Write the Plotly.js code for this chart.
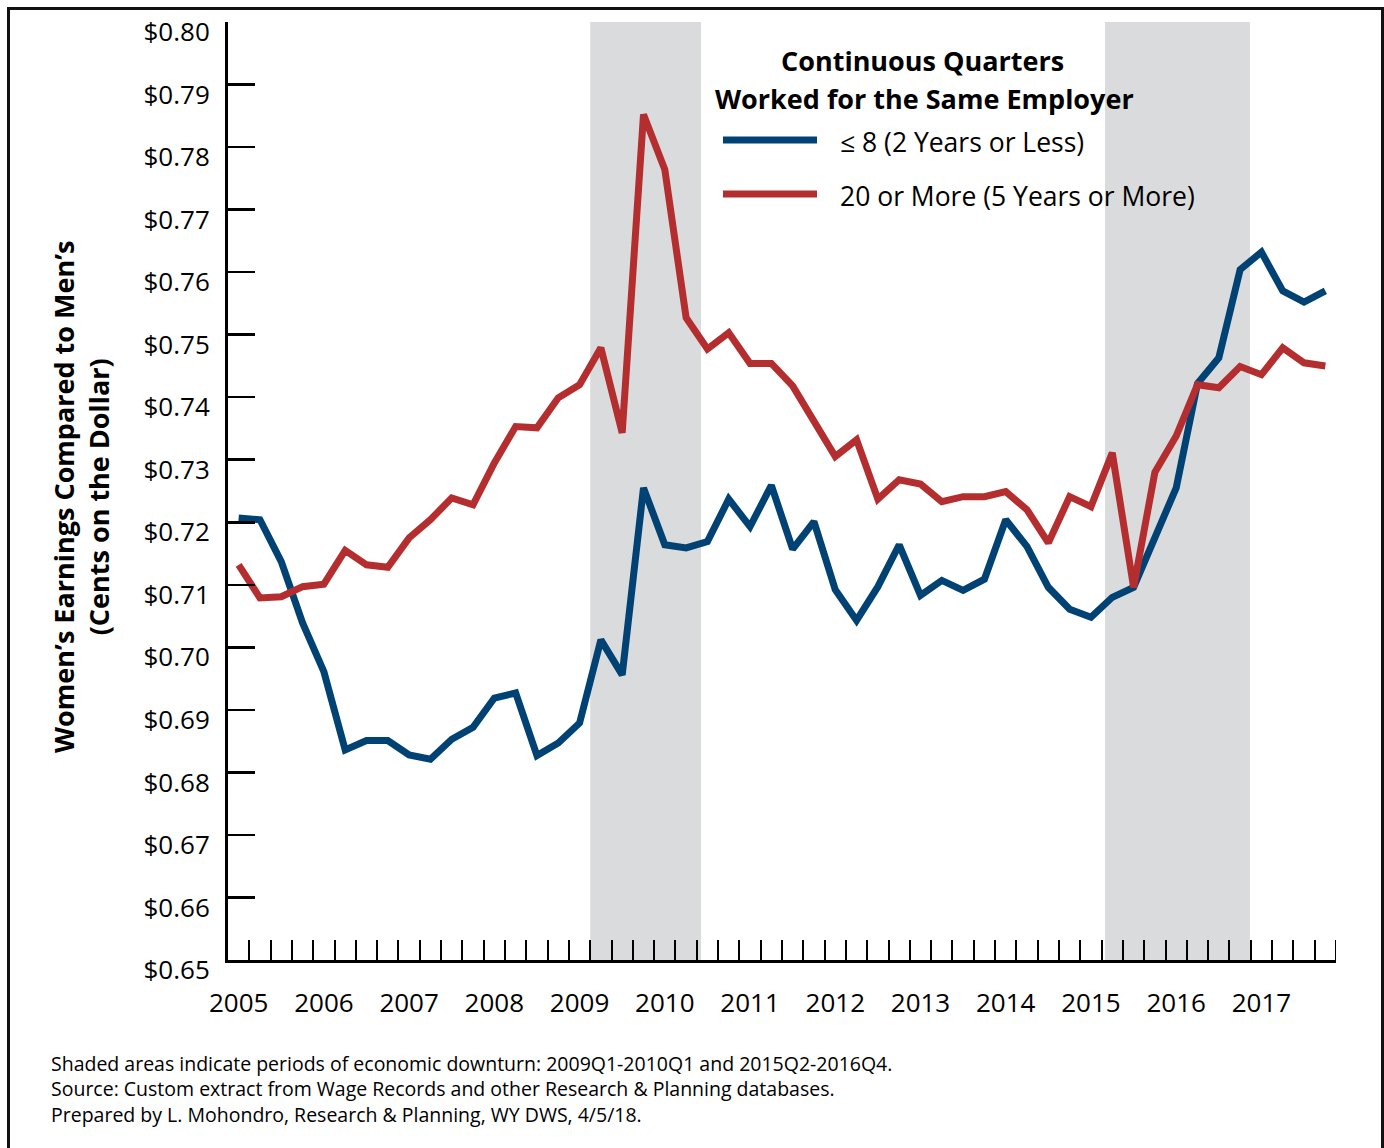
<!DOCTYPE html>
<html>
<head>
<meta charset="utf-8">
<script src="https://cdn.plot.ly/plotly-3.0.1.min.js"></script>
<style>
  html, body { margin: 0; padding: 0; background: #fff; overflow: hidden; }
  #wrap { position: relative; width: 1384px; height: 1148px; }
  #chart { position: absolute; left: 0; top: 0; width: 1384px; height: 1148px; }
  #frame { position: absolute; left: 7px; top: 7px; width: 1371px; height: 1200px;
           border-left: 3px solid #111; border-top: 3px solid #111; border-right: 3px solid #111;
           pointer-events: none; }
</style>
</head>
<body>
<div id="wrap"><div id="chart"></div><div id="frame"></div></div>
<script>
// Quarters 2005Q1 .. 2017Q4
const quarters = [
  '2005Q1','2005Q2','2005Q3','2005Q4','2006Q1','2006Q2','2006Q3','2006Q4',
  '2007Q1','2007Q2','2007Q3','2007Q4','2008Q1','2008Q2','2008Q3','2008Q4',
  '2009Q1','2009Q2','2009Q3','2009Q4','2010Q1','2010Q2','2010Q3','2010Q4',
  '2011Q1','2011Q2','2011Q3','2011Q4','2012Q1','2012Q2','2012Q3','2012Q4',
  '2013Q1','2013Q2','2013Q3','2013Q4','2014Q1','2014Q2','2014Q3','2014Q4',
  '2015Q1','2015Q2','2015Q3','2015Q4','2016Q1','2016Q2','2016Q3','2016Q4',
  '2017Q1','2017Q2','2017Q3','2017Q4'
];
const yTicks = [0.65, 0.66, 0.67, 0.68, 0.69, 0.70, 0.71, 0.72, 0.73, 0.74, 0.75, 0.76, 0.77, 0.78, 0.79, 0.80];

// <= 8 quarters (2 years or less)
const shortTenure = [
  0.7207, 0.7204, 0.7137, 0.7039, 0.6961, 0.6836, 0.6851, 0.6851,
  0.6828, 0.6821, 0.6853, 0.6872, 0.6919, 0.6927, 0.6827, 0.6847,
  0.6879, 0.7012, 0.6956, 0.7255, 0.7164, 0.7159, 0.7169, 0.7237,
  0.7193, 0.7259, 0.7157, 0.7201, 0.7092, 0.7043, 0.7097, 0.7164,
  0.7083, 0.7107, 0.7091, 0.7109, 0.7204, 0.7161, 0.7096, 0.7061,
  0.7048, 0.7080, 0.7096, 0.7179, 0.7255, 0.7422, 0.7463, 0.7604,
  0.7632, 0.7570, 0.7552, 0.7570
];
// 20 or more quarters (5 years or more)
const longTenure = [
  0.7132, 0.7079, 0.7081, 0.7097, 0.7101, 0.7155, 0.7132, 0.7128,
  0.7175, 0.7204, 0.7239, 0.7228, 0.7295, 0.7353, 0.7351, 0.7399,
  0.7420, 0.7479, 0.7343, 0.7852, 0.7764, 0.7527, 0.7477, 0.7503,
  0.7454, 0.7454, 0.7418, 0.7359, 0.7305, 0.7332, 0.7237, 0.7268,
  0.7261, 0.7233, 0.7241, 0.7241, 0.7249, 0.7220, 0.7167, 0.7241,
  0.7225, 0.7311, 0.7096, 0.7280, 0.7338, 0.7420, 0.7415, 0.7449,
  0.7436, 0.7479, 0.7455, 0.7450
];
const seriesNames = ['\u2264 8 (2 Years or Less)', '20 or More (5 Years or More)'];
const legendTitle = ['Continuous Quarters', 'Worked for the Same Employer'];
const footnotes = [
  'Shaded areas indicate periods of economic downturn: 2009Q1-2010Q1 and 2015Q2-2016Q4.',
  'Source: Custom extract from Wage Records and other Research &amp; Planning databases.',
  'Prepared by L. Mohondro, Research &amp; Planning, WY DWS, 4/5/18.'
];

const BLUE = '#004274';
const RED = '#b52e2f';
const GRAY = '#dadbdd';
const FONT = 'Open Sans, Noto Sans, sans-serif';

const tickText = quarters.map(q => q.endsWith('Q1') ? q.slice(0, 4) : '');
const yTickText = yTicks.map(v => '$' + v.toFixed(2));

const traces = [
  { x: quarters, y: shortTenure, type: 'scatter', mode: 'lines', name: seriesNames[0],
    line: { color: BLUE, width: 7 }, showlegend: false },
  { x: quarters, y: longTenure, type: 'scatter', mode: 'lines', name: seriesNames[1],
    line: { color: RED, width: 7 }, showlegend: false }
];

// plot area px: x 228..1336, y 22..960
const px = v => (v - 228) / 1108;
const py = v => (960 - v) / 938;

const shapes = [
  { type: 'rect', xref: 'x', yref: 'paper', x0: 16.5, x1: 21.7, y0: 0, y1: 1,
    fillcolor: GRAY, line: { width: 0 }, layer: 'below' },
  { type: 'rect', xref: 'x', yref: 'paper', x0: 40.66, x1: 47.46, y0: 0, y1: 1,
    fillcolor: GRAY, line: { width: 0 }, layer: 'below' },
  // closing quarter tick at the right end of the axis
  { type: 'line', xref: 'x', yref: 'paper', x0: quarters.length - 0.5, x1: quarters.length - 0.5,
    y0: 0, y1: 20 / 938, line: { color: '#000', width: 2 } },
  { type: 'line', xref: 'paper', yref: 'paper', x0: px(723), x1: px(817), y0: py(140), y1: py(140),
    line: { color: BLUE, width: 7 } },
  { type: 'line', xref: 'paper', yref: 'paper', x0: px(723), x1: px(817), y0: py(194), y1: py(194),
    line: { color: RED, width: 7 } }
];

const annotations = [
  { xref: 'paper', yref: 'paper', x: px(922), y: py(61), xanchor: 'center', yanchor: 'middle',
    text: legendTitle[0], showarrow: false, font: { family: FONT, size: 27, color: '#000', weight: 'bold' } },
  { xref: 'paper', yref: 'paper', x: px(925), y: py(98), xanchor: 'center', yanchor: 'middle',
    text: legendTitle[1], showarrow: false, font: { family: FONT, size: 27, color: '#000', weight: 'bold' } },
  { xref: 'paper', yref: 'paper', x: px(838), y: py(142), xanchor: 'left', yanchor: 'middle',
    text: seriesNames[0], showarrow: false, font: { family: FONT, size: 26.5, color: '#000' } },
  { xref: 'paper', yref: 'paper', x: px(838), y: py(196), xanchor: 'left', yanchor: 'middle',
    text: seriesNames[1], showarrow: false, font: { family: FONT, size: 26.5, color: '#000' } },
  { xref: 'paper', yref: 'paper', x: px(81), y: py(497), xanchor: 'center', yanchor: 'middle',
    textangle: -90, text: "Women\u2019s Earnings Compared to Men\u2019s<br>(Cents on the Dollar)",
    showarrow: false, font: { family: FONT, size: 27, color: '#000', weight: 'bold' } },
  { xref: 'paper', yref: 'paper', x: px(49), y: py(1089), xanchor: 'left', yanchor: 'middle', align: 'left',
    text: footnotes.join('<br>'), showarrow: false, font: { family: FONT, size: 19.5, color: '#000' } }
];

const layout = {
  width: 1384, height: 1148,
  margin: { l: 228, r: 48, t: 22, b: 188 },
  paper_bgcolor: '#fff', plot_bgcolor: 'rgba(0,0,0,0)',
  font: { family: FONT, color: '#000' },
  showlegend: false,
  xaxis: {
    type: 'category', range: [-0.5, 51.5],
    tickmode: 'array', tickvals: quarters, ticktext: tickText, tickangle: 0,
    tickson: 'boundaries', ticks: 'inside', ticklen: 20, tickwidth: 2, tickcolor: '#000',
    showline: true, linecolor: '#000', linewidth: 3, showgrid: false, zeroline: false,
    tickfont: { family: FONT, size: 26, color: '#000' }, ticklabelstandoff: 18,
    fixedrange: true
  },
  yaxis: {
    range: [0.65, 0.80], tickmode: 'array', tickvals: yTicks, ticktext: yTickText,
    ticks: 'inside', ticklen: 27, tickwidth: 2.5, tickcolor: '#000',
    showline: true, linecolor: '#000', linewidth: 3, showgrid: false, zeroline: false,
    tickfont: { family: FONT, size: 26, color: '#000' }, ticklabelstandoff: 10, ticklabelshift: 10,
    fixedrange: true
  },
  shapes: shapes,
  annotations: annotations
};

Plotly.newPlot('chart', traces, layout, { displayModeBar: false, staticPlot: true });
</script>
</body>
</html>
